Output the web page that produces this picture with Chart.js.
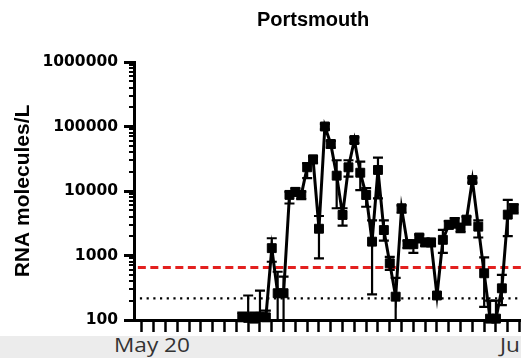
<!DOCTYPE html>
<html>
<head>
<meta charset="utf-8">
<title>Portsmouth</title>
<script src="https://cdn.jsdelivr.net/npm/chart.js@4.4.1/dist/chart.umd.min.js"></script>
<style>
  html, body { margin: 0; padding: 0; background: #fff; overflow: hidden; }
  #wrap { position: relative; width: 521px; height: 358px; overflow: hidden; }
  #chart { position: absolute; left: 0; top: 0; }
  .band { position: absolute; left: 0; top: 336px; width: 521px; height: 22px; background: #ececec; overflow: hidden; }
  .band span { position: absolute; top: -1px; font: 20px 'Open Sans', sans-serif; line-height: 20px; color: #333;
               transform: scaleX(1.13); transform-origin: left top; white-space: nowrap; }
</style>
</head>
<body>
<div id="wrap">
  <canvas id="chart" width="626" height="358"></canvas>
  <div class="band" id="band"></div>
</div>
<script>
// sample number (two samples per tick) and measured RNA copies per litre
const sampleNo = [17, 18, 19, 20, 21, 22, 23, 24, 25, 26, 27, 28, 29, 30, 31, 32, 33, 34, 35, 36,
                  37, 38, 39, 40, 41, 42, 43, 44, 45, 46, 47, 48, 49, 50, 51, 52, 53, 54, 55, 56,
                  57, 58, 59, 60, 61, 62, 63];
const rnaPerLitre = [110, 108, 105, 112, 110, 1300, 260, 260, 8700, 9700, 8700, 23300, 31000, 2600, 100000, 53600, 17300, 4250, 23300, 61700,
                     19200, 8670, 1640, 21200, 2480, 757, 230, 5400, 1500, 1500, 1900, 1600, 1600, 240, 1750, 3000, 3300, 2700, 3600, 14800,
                     2800, 530, 105, 105, 310, 4300, 5400];
const errLow = [100, 100, 100, 100, 100, 800, 100, 100, 6400, 8500, 7500, 15800, 27000, 900, 90000, 47000, 5400, 2900, 16700, 55000,
                10300, 5700, 250, 7700, 1700, 600, 100, 4600, 1300, 1100, 1600, 1400, 1400, 220, 1100, 2600, 2700, 2300, 3000, 13500,
                1900, 160, 100, 100, 170, 2000, 4500];
const errHigh = [130, 240, 130, 285, 140, 1850, 560, 470, 9800, 11000, 9800, 27000, 34000, 4100, 110000, 60000, 30000, 5400, 30000, 68000,
                 28500, 11100, 3500, 33000, 3500, 950, 450, 6000, 1700, 1700, 2100, 1800, 1800, 260, 2500, 3400, 3800, 3100, 4000, 16000,
                 3500, 935, 200, 200, 500, 7300, 6200];

const yTickValues = [100, 1000, 10000, 100000, 1000000];
const monthLabels = ['May 20', 'Jun 20'];
const monthLabelLeft = [114, 500];

const actionLevel = 650;     // red dashed line
const detectionLimit = 217;  // dotted line

const xMin = -1.35;
const xMax = 80.8;

// month strip under the axis
const band = document.getElementById('band');
monthLabels.forEach((txt, i) => {
    const s = document.createElement('span');
    s.textContent = txt;
    s.style.left = monthLabelLeft[i] + 'px';
    band.appendChild(s);
});

// short ticks between the decades of the log axis
const minorTicks = {
    id: 'minorTicks',
    afterDraw(chart) {
        const y = chart.scales.y;
        const ctx = chart.ctx;
        ctx.save();
        ctx.strokeStyle = '#000';
        ctx.lineWidth = 2;
        for (let k = 0; k < yTickValues.length - 1; k++) {
            for (let m = 2; m <= 9; m++) {
                const py = Math.round(y.getPixelForValue(m * yTickValues[k]));
                ctx.beginPath();
                ctx.moveTo(y.right - 5, py);
                ctx.lineTo(y.right, py);
                ctx.stroke();
            }
        }
        ctx.restore();
    }
};

// vertical error bars with caps
const errorBars = {
    id: 'errorBars',
    afterDatasetsDraw(chart) {
        const meta = chart.getDatasetMeta(0);
        const y = chart.scales.y;
        const ctx = chart.ctx;
        ctx.save();
        ctx.strokeStyle = '#000';
        ctx.lineWidth = 2.2;
        meta.data.forEach((pt, i) => {
            const top = y.getPixelForValue(errHigh[i]);
            const bot = y.getPixelForValue(errLow[i]);
            ctx.beginPath();
            ctx.moveTo(pt.x, top);
            ctx.lineTo(pt.x, bot);
            ctx.moveTo(pt.x - 5, top);
            ctx.lineTo(pt.x + 5, top);
            ctx.moveTo(pt.x - 5, bot);
            ctx.lineTo(pt.x + 5, bot);
            ctx.stroke();
        });
        ctx.restore();
    }
};

const boldFont = (family, size) => ({ family: family, size: size, weight: 'bold' });

const ctx = document.getElementById('chart').getContext('2d');
new Chart(ctx, {
    type: 'line',
    data: {
        datasets: [
            {
                data: sampleNo.map((n, i) => ({ x: n, y: rnaPerLitre[i] })),
                borderColor: '#000',
                backgroundColor: '#000',
                borderWidth: 3,
                pointStyle: 'rect',
                pointRadius: 6.3,
                pointBorderWidth: 1,
                tension: 0,
                clip: false,
                order: 0
            },
            {
                data: [{ x: -0.7, y: actionLevel }, { x: xMax, y: actionLevel }],
                borderColor: '#e3201f',
                borderWidth: 3,
                borderDash: [8, 4.5],
                pointRadius: 0,
                order: 1
            },
            {
                data: [{ x: -0.35, y: detectionLimit }, { x: xMax, y: detectionLimit }],
                borderColor: '#000',
                borderWidth: 2.2,
                borderDash: [2.2, 4.5],
                pointRadius: 0,
                order: 2
            }
        ]
    },
    options: {
        responsive: false,
        animation: false,
        devicePixelRatio: 1,
        layout: { padding: { left: 4, right: 4, top: 0, bottom: 0 } },
        plugins: {
            legend: { display: false },
            tooltip: { enabled: false },
            title: {
                display: true,
                text: 'Portsmouth',
                color: '#000',
                font: boldFont('Liberation Sans', 20),
                padding: { top: 8, bottom: 30 }
            }
        },
        scales: {
            x: {
                type: 'linear',
                min: xMin,
                max: xMax,
                ticks: { stepSize: 2, includeBounds: false, autoSkip: false, callback: () => '' },
                grid: { drawOnChartArea: false, tickLength: 12, tickWidth: 2.5, tickColor: '#000' },
                border: { color: '#000', width: 3 },
                afterFit(scale) { scale.height = 38; }
            },
            y: {
                type: 'logarithmic',
                min: 100,
                max: 1000000,
                afterBuildTicks(scale) { scale.ticks = yTickValues.map(v => ({ value: v })); },
                ticks: { color: '#000', font: boldFont('DejaVu Sans', 15.5), padding: 6, callback: v => String(v) },
                grid: { drawOnChartArea: false, tickLength: 10, tickWidth: 3, tickColor: '#000' },
                border: { color: '#000', width: 3 },
                title: {
                    display: true,
                    text: 'RNA molecules/L',
                    color: '#000',
                    font: boldFont('Liberation Sans', 21),
                    padding: { top: 7, bottom: 0 }
                },
                afterFit(scale) { scale.width = 130; }
            }
        }
    },
    plugins: [errorBars, minorTicks]
});
</script>
</body>
</html>
